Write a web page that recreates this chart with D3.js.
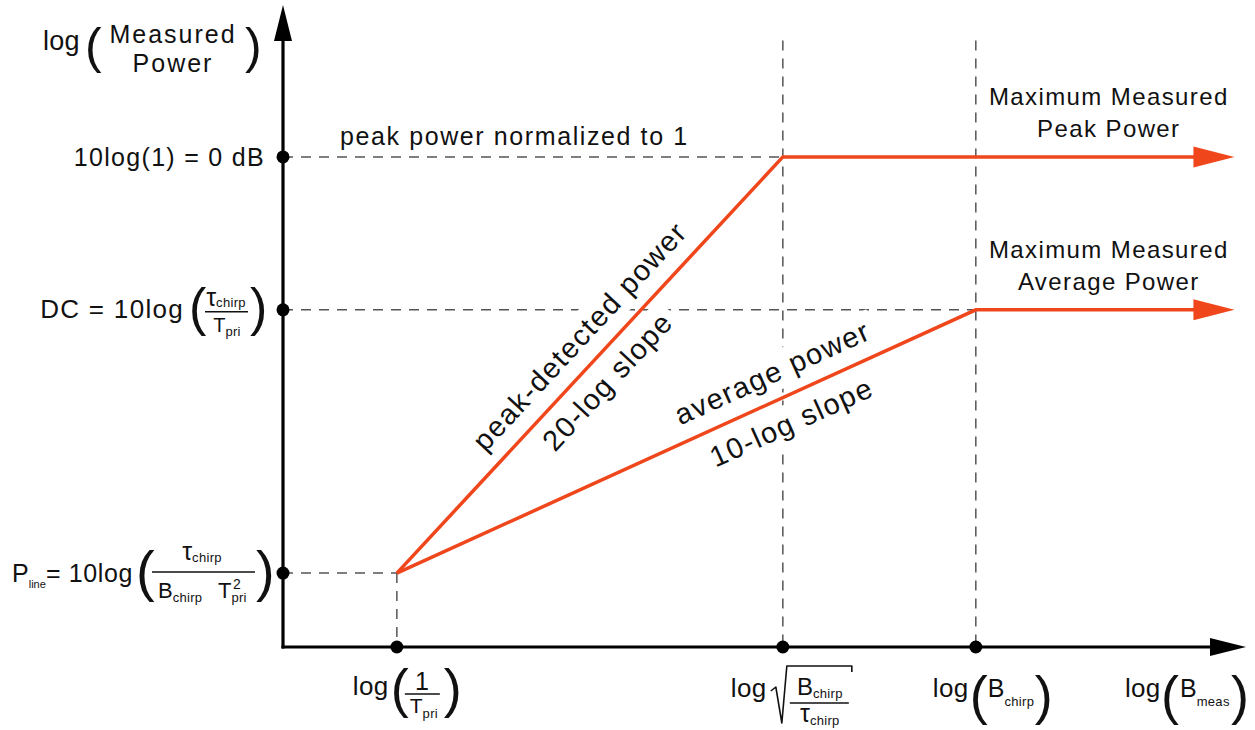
<!DOCTYPE html>
<html>
<head>
<meta charset="utf-8">
<script src="https://cdn.jsdelivr.net/npm/d3@7"></script>
<style>
    body { margin: 0; background: #fff; }
    text { font-family: "Liberation Sans", Arial, Helvetica, sans-serif; fill: #111; letter-spacing: 1.3px; }
</style>
</head>
<body>
<svg id="chart"></svg>
<script>
// x = log(B_meas), y = log(measured power), units
const xTicks = [0, 1, 1.5];          // log(1/Tpri), log sqrt(Bchirp/tchirp), log(Bchirp)
const yTicks = [0, 1.265, 2];        // P_line, DC, 0 dB
const peakPower = [[0, 0], [1, 2], [2.17, 2]];
const avgPower = [[0, 0], [1.5, 1.265], [2.17, 1.265]];
const guideTop = 2.56;
const lineLabels = [
    {series: "peak", seg: 0, t: 0.525, off: 27, text: "peak-detected power"},
    {series: "peak", seg: 0, t: 0.50, off: -24, text: "20-log slope"},
    {series: "avg", seg: 0, t: 0.668, off: 27, text: "average power"},
    {series: "avg", seg: 0, t: 0.663, off: -26, text: "10-log slope"}
];

const W = 1255, H = 730;
const red = "#f0461b";

const svg = d3.select("#chart").attr("width", W).attr("height", H);

const x = d3.scaleLinear().domain([-0.295, 2.2]).range([283, 1246]);
const y = d3.scaleLinear().domain([-0.355, 2.73]).range([647, 5]);

const x0 = x.range()[0], y0 = y.range()[0];

function rich(g, px, py, parts, anchor) {
    const t = g.append("text").attr("x", px).attr("y", py).attr("text-anchor", anchor || "start");
    let prev = 0;
    parts.forEach(function (p) {
        const off = p.off || 0;
        t.append("tspan").attr("dy", off - prev).style("font-size", p.size + "px")
            .style("letter-spacing", (p.ls != null ? p.ls : 1.3) + "px").text(p.t);
        prev = off;
    });
    return t;
}
function paren(g, px, py, ch, size) {
    return g.append("text").attr("x", px).attr("y", py).style("font-size", size + "px")
        .style("letter-spacing", "0px").text(ch);
}
function bar(g, xa, xb, yy) {
    g.append("line").attr("x1", xa).attr("x2", xb).attr("y1", yy).attr("y2", yy)
        .attr("stroke", "#111").attr("stroke-width", 1.5);
}
function arrowHead(g, tx, ty, dx, dy, len, half, color) {
    const nx = -dy, ny = dx;
    const bx = tx - dx * len, by = ty - dy * len;
    g.append("path")
        .attr("d", `M${tx},${ty}L${bx + nx * half},${by + ny * half}L${bx - nx * half},${by - ny * half}Z`)
        .attr("fill", color);
}
const logPart = {t: "log", size: 26, ls: 0.3};

// dashed guides
const guides = svg.append("g").attr("stroke", "#555").attr("stroke-width", 1.5)
    .attr("stroke-dasharray", "10,8").attr("fill", "none");
guides.append("line").attr("x1", x0).attr("x2", x(xTicks[1])).attr("y1", y(yTicks[2])).attr("y2", y(yTicks[2]));
guides.append("line").attr("x1", x0).attr("x2", x(xTicks[2])).attr("y1", y(yTicks[1])).attr("y2", y(yTicks[1]));
guides.append("line").attr("x1", x0).attr("x2", x(xTicks[0])).attr("y1", y(yTicks[0])).attr("y2", y(yTicks[0]));
guides.append("line").attr("x1", x(xTicks[0])).attr("x2", x(xTicks[0])).attr("y1", y(yTicks[0])).attr("y2", y0);
guides.append("line").attr("x1", x(xTicks[1])).attr("x2", x(xTicks[1])).attr("y1", y(guideTop)).attr("y2", y0);
guides.append("line").attr("x1", x(xTicks[2])).attr("x2", x(xTicks[2])).attr("y1", y(guideTop)).attr("y2", y0);

// labels along the slopes (white boxes hide the guides behind them)
const series = {peak: peakPower, avg: avgPower};
const slopeLayer = svg.append("g");
lineLabels.forEach(function (d) {
    const pts = series[d.series];
    const ax = x(pts[d.seg][0]), ay = y(pts[d.seg][1]);
    const bx = x(pts[d.seg + 1][0]), by = y(pts[d.seg + 1][1]);
    const len = Math.hypot(bx - ax, by - ay);
    const ux = (bx - ax) / len, uy = (by - ay) / len;
    const nx = uy, ny = -ux;   // normal pointing up-left
    const px = ax + (bx - ax) * d.t + nx * d.off;
    const py = ay + (by - ay) * d.t + ny * d.off;
    const ang = Math.atan2(by - ay, bx - ax) * 180 / Math.PI;
    const g = slopeLayer.append("g").attr("transform", `translate(${px},${py}) rotate(${ang})`);
    const t = g.append("text").attr("text-anchor", "middle").attr("dominant-baseline", "central")
        .style("font-size", "29px").style("letter-spacing", "1.5px").text(d.text);
    const bb = t.node().getBBox();
    g.insert("rect", "text").attr("x", bb.x - 6).attr("y", bb.y - 3)
        .attr("width", bb.width + 12).attr("height", bb.height + 6).attr("fill", "#fff");
});

// power curves
const line = d3.line().x(d => x(d[0])).y(d => y(d[1]));
[peakPower, avgPower].forEach(function (pts) {
    const last = pts[pts.length - 1];
    const body = pts.slice(0, -1).concat([[x.invert(x(last[0]) - 38), last[1]]]);
    svg.append("path").datum(body).attr("d", line)
        .attr("fill", "none").attr("stroke", red).attr("stroke-width", 3.5).attr("stroke-linejoin", "miter");
    arrowHead(svg, x(last[0]), y(last[1]), 1, 0, 41, 10.5, red);
});

// axes
const axes = svg.append("g");
axes.append("line").attr("x1", x0).attr("x2", x0).attr("y1", y0 + 1.5).attr("y2", y.range()[1] + 30)
    .attr("stroke", "#000").attr("stroke-width", 3.2);
arrowHead(axes, x0, y.range()[1], 0, -1, 36, 9, "#000");
axes.append("line").attr("x1", x0 - 1.5).attr("x2", x.range()[1] - 30).attr("y1", y0).attr("y2", y0)
    .attr("stroke", "#000").attr("stroke-width", 3.2);
arrowHead(axes, x.range()[1], y0, 1, 0, 36, 9, "#000");

axes.selectAll(".ydot").data(yTicks).enter().append("circle")
    .attr("cx", x0).attr("cy", d => y(d)).attr("r", 6.5).attr("fill", "#000");
axes.selectAll(".xdot").data(xTicks).enter().append("circle")
    .attr("cx", d => x(d)).attr("cy", y0).attr("r", 6.5).attr("fill", "#000");

// y-axis title
const yt = svg.append("g").attr("transform", `translate(${x0},0)`);
rich(yt, -240, 50, [{t: "log", size: 27, ls: 0.3}]);
paren(yt, -198, 63, "(", 50);
rich(yt, -110, 43, [{t: "Measured", size: 25, ls: 2}], "middle");
rich(yt, -110, 72, [{t: "Power", size: 25, ls: 2}], "middle");
paren(yt, -38, 63, ")", 50);

// y tick labels
let g = svg.append("g").attr("transform", `translate(${x0},${y(yTicks[2])})`);
rich(g, -18, 9, [{t: "10log(1) = 0 dB", size: 25}], "end");

g = svg.append("g").attr("transform", `translate(${x0},${y(yTicks[1])})`);
rich(g, -99, 8, [{t: "DC = 10log", size: 26}], "end");
paren(g, -94, 15, "(", 52);
rich(g, -57, -4, [{t: "\u03c4", size: 25, ls: 0}, {t: "chirp", size: 13, ls: 0.3, off: 1}], "middle");
bar(g, -78, -35, 2);
rich(g, -56, 22, [{t: "T", size: 20, ls: 0}, {t: "pri", size: 13, ls: 0.3, off: 4}], "middle");
paren(g, -33, 15, ")", 52);

g = svg.append("g").attr("transform", `translate(${x0},${y(yTicks[0])})`);
rich(g, -271, 9, [{t: "P", size: 25, ls: 0}, {t: "line", size: 11, ls: 0, off: 6}]);
rich(g, -237, 9, [{t: "= 10log", size: 25, ls: 0.6}]);
paren(g, -147, 17, "(", 56);
rich(g, -81, -13, [{t: "\u03c4", size: 25, ls: 0}, {t: "chirp", size: 13, ls: 0.3, off: 2}], "middle");
bar(g, -131, -28, -1);
rich(g, -125, 25, [{t: "B", size: 22, ls: 0}, {t: "chirp", size: 13, ls: 0.3, off: 4}]);
rich(g, -65, 25, [{t: "T", size: 22, ls: 0}, {t: "pri", size: 13, ls: 0.3, off: 4}]);
rich(g, -50, 16, [{t: "2", size: 14, ls: 0}]);
paren(g, -27, 17, ")", 56);

// x tick labels
g = svg.append("g").attr("transform", `translate(${x(xTicks[0])},${y0})`);
rich(g, -44, 48, [logPart]);
paren(g, -6, 60, "(", 54);
rich(g, 25, 43, [{t: "1", size: 25, ls: 0}], "middle");
bar(g, 8, 43, 47);
rich(g, 27, 66, [{t: "T", size: 21, ls: 0}, {t: "pri", size: 13, ls: 0.3, off: 5}], "middle");
paren(g, 47, 60, ")", 54);

g = svg.append("g").attr("transform", `translate(${x(xTicks[1])},${y0})`);
rich(g, -52, 50, [logPart]);
g.append("path").attr("d", "M-12,44L-7,40L-1,76L4,19L69,19L69,25")
    .attr("fill", "none").attr("stroke", "#111").attr("stroke-width", 1.6).attr("stroke-linejoin", "round");
rich(g, 37, 48, [{t: "B", size: 24, ls: 0}, {t: "chirp", size: 13, ls: 0.3, off: 3}], "middle");
bar(g, 7, 66, 56);
rich(g, 37, 75, [{t: "\u03c4", size: 25, ls: 0}, {t: "chirp", size: 13, ls: 0.3, off: 3}], "middle");

g = svg.append("g").attr("transform", `translate(${x(xTicks[2])},${y0})`);
rich(g, -43, 50, [logPart]);
paren(g, -6, 67, "(", 54);
rich(g, 12, 50, [{t: "B", size: 25, ls: 0}, {t: "chirp", size: 13, ls: 0.3, off: 9}]);
paren(g, 59, 67, ")", 54);

// x-axis title
g = svg.append("g").attr("transform", `translate(${x.range()[1]},${y0})`);
rich(g, -121, 50, [logPart]);
paren(g, -85, 67, "(", 54);
rich(g, -66, 50, [{t: "B", size: 25, ls: 0}, {t: "meas", size: 13, ls: 0.3, off: 9}]);
paren(g, -15, 67, ")", 54);

// annotations
svg.append("g").call(function (a) {
    rich(a, x0 + 57, y(yTicks[2]) - 12, [{t: "peak power normalized to 1", size: 25, ls: 1.6}]);
    rich(a, x(xTicks[2]) + 133, y(yTicks[2]) - 52, [{t: "Maximum Measured", size: 24, ls: 1.4}], "middle");
    rich(a, x(xTicks[2]) + 133, y(yTicks[2]) - 20, [{t: "Peak Power", size: 24, ls: 1.4}], "middle");
    rich(a, x(xTicks[2]) + 133, y(yTicks[1]) - 52, [{t: "Maximum Measured", size: 24, ls: 1.4}], "middle");
    rich(a, x(xTicks[2]) + 133, y(yTicks[1]) - 20, [{t: "Average Power", size: 24, ls: 1.4}], "middle");
});
</script>
</body>
</html>
